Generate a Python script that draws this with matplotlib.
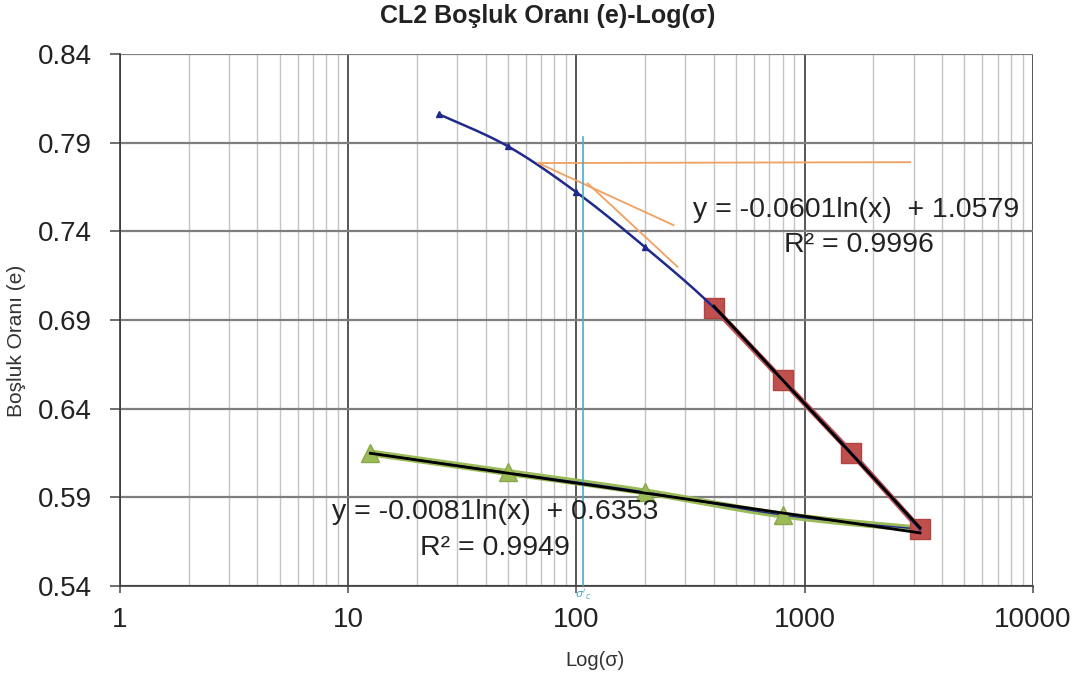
import numpy as np
import matplotlib
matplotlib.use("Agg")
import matplotlib.pyplot as plt
from matplotlib.ticker import LogLocator, FixedLocator, NullFormatter

plt.rcParams['font.family'] = ['Liberation Sans', 'DejaVu Sans']

# ---- data ----
blue_x = [25, 50, 100, 200, 400, 800, 1600, 3200]
blue_y = [0.806, 0.788, 0.762, 0.731, 0.697, 0.656, 0.615, 0.572]

red_x = [400, 800, 1600, 3200]
red_y = [0.697, 0.656, 0.615, 0.572]

green_x = [12.5, 50, 200, 800, 3200]
green_y = [0.615, 0.604, 0.593, 0.580, 0.572]

fit1_a, fit1_b = -0.0601, 1.0579   # over red
fit2_a, fit2_b = -0.0081, 0.6353   # over green

# Casagrande construction lines (x, y endpoints)
horiz_x = [68, 2900]
horiz_y = [0.7785, 0.779]
bis_x = [68, 266]
bis_y = [0.7785, 0.7435]
tan_x = [112, 277]
tan_y = [0.767, 0.720]
sigc_x = 107
sigc_ytop = 0.793

yticks = [0.54, 0.59, 0.64, 0.69, 0.74, 0.79, 0.84]
xticks = [1, 10, 100, 1000, 10000]


def smooth(xs, ys, n=30):
    """Catmull-Rom smoothing in log-x space (like Excel smoothed line)."""
    lx = np.log10(xs)
    y = np.asarray(ys, float)
    P = np.column_stack([lx, y])
    P = np.vstack([P[0], P, P[-1]])
    out = []
    for i in range(1, len(P) - 2):
        p0, p1, p2, p3 = P[i - 1], P[i], P[i + 1], P[i + 2]
        t = np.linspace(0, 1, n)[:, None]
        pts = 0.5 * ((2 * p1) + (-p0 + p2) * t + (2 * p0 - 5 * p1 + 4 * p2 - p3) * t ** 2
                     + (-p0 + 3 * p1 - 3 * p2 + p3) * t ** 3)
        out.append(pts)
    pts = np.vstack(out)
    return 10 ** pts[:, 0], pts[:, 1]


fig = plt.figure(figsize=(10.82, 6.75), dpi=100)
ax = fig.add_axes([0.1109, 0.1319, 0.9547 - 0.1109, 0.92 - 0.1319])
ax.set_xscale('log')
ax.set_xlim(1, 10000)
ax.set_ylim(0.54, 0.84)

ax.xaxis.set_major_locator(FixedLocator(xticks))
ax.xaxis.set_minor_locator(LogLocator(base=10, subs=np.arange(2, 10), numticks=20))
ax.xaxis.set_minor_formatter(NullFormatter())
ax.set_xticklabels([str(v) for v in xticks])
ax.set_yticks(yticks)
ax.set_yticklabels([f"{v:.2f}" for v in yticks])

ax.grid(which='major', axis='y', color='#7f7f7f', linewidth=1.6)
ax.grid(which='major', axis='x', color='#3a3a3a', linewidth=1.2)
ax.grid(which='minor', axis='x', color='#c4c4c4', linewidth=1.0)
ax.set_axisbelow(True)
for s in ['top', 'right']:
    ax.spines[s].set_visible(False)
ax.spines['left'].set_color('#3a3a3a')
ax.spines['left'].set_linewidth(1.2)
ax.spines['bottom'].set_color('#3a3a3a')
ax.spines['bottom'].set_linewidth(1.2)
ax.tick_params(axis='both', which='major', labelsize=20, width=1.2,
               color='#555555', labelcolor='#222222')
ax.tick_params(axis='y', which='major', length=7, pad=13)
ax.tick_params(axis='x', which='major', length=5, pad=10)
ax.tick_params(axis='x', which='minor', length=0)

# green series: thick green line + thin blue smoothed line
gx, gy = smooth(green_x, green_y)
ax.plot(gx, gy, color='#9bbb59', linewidth=5, solid_capstyle='round', zorder=3)
ax.plot(gx, gy, color='#1f2a8a', linewidth=1.0, zorder=3.5)
ax.plot(green_x, green_y, linestyle='none', marker='^', markersize=13,
        color='#9bbb59', markeredgecolor='#8aa84a', zorder=4)

# red series line
rx, ry = smooth(red_x, red_y)
ax.plot(rx, ry, color='#c0504d', linewidth=4, zorder=3)
ax.plot(red_x, red_y, linestyle='none', marker='s', markersize=14,
        color='#c0504d', markeredgecolor='#b04540', zorder=4)

# blue smoothed curve
bx, by = smooth(blue_x, blue_y)
ax.plot(bx, by, color='#1f2a8a', linewidth=1.8, zorder=5)
ax.plot(blue_x[:4], blue_y[:4], linestyle='none', marker='^', markersize=4.5,
        color='#1f2a8a', zorder=5)

# trendlines
tt = np.geomspace(red_x[0], red_x[-1], 50)
ax.plot(tt, fit1_a * np.log(tt) + fit1_b, color='black', linewidth=2, zorder=6)
tt2 = np.geomspace(green_x[0], green_x[-1], 50)
ax.plot(tt2, fit2_a * np.log(tt2) + fit2_b, color='black', linewidth=2, zorder=6)

# Casagrande lines
ax.plot(horiz_x, horiz_y, color='#f0a060', linewidth=1.3, zorder=5.5)
ax.plot(bis_x, bis_y, color='#f0a060', linewidth=1.3, zorder=5.5)
ax.plot(tan_x, tan_y, color='#f0a060', linewidth=1.3, zorder=5.5)
ax.plot([sigc_x, sigc_x], [0.54, sigc_ytop], color='#4bacc6', linewidth=1.2, zorder=5.5)
ax.text(sigc_x, 0.5395, r"$\sigma'_c$", color='#4bacc6', fontsize=8,
        ha='center', va='top', zorder=7)

# equations
ax.text(0.6276, 0.7068, "y = -0.0601ln(x)  + 1.0579", transform=ax.transAxes,
        fontsize=20.5, color='#222222', ha='left', va='center', zorder=7)
ax.text(0.8094, 0.641, "R² = 0.9996", transform=ax.transAxes,
        fontsize=20.5, color='#222222', ha='center', va='center', zorder=7)
ax.text(0.2322, 0.139, "y = -0.0081ln(x)  + 0.6353", transform=ax.transAxes,
        fontsize=20.5, color='#222222', ha='left', va='center', zorder=7)
ax.text(0.4107, 0.0714, "R² = 0.9949", transform=ax.transAxes,
        fontsize=20.5, color='#222222', ha='center', va='center', zorder=7)

fig.text(548 / 1082, 1 - 16 / 675, "CL2 Boşluk Oranı (e)-Log(σ)", fontsize=18,
         fontweight='bold', ha='center', va='center', color='#222222')
fig.text(17 / 1082, 1 - 341 / 675, "Boşluk Oranı (e)", fontsize=15, rotation=90,
         ha='center', va='center', color='#333333')
fig.text(595 / 1082, 1 - 660 / 675, "Log(σ)", fontsize=14.5,
         ha='center', va='center', color='#333333')

fig.savefig("out.png", dpi=100)
